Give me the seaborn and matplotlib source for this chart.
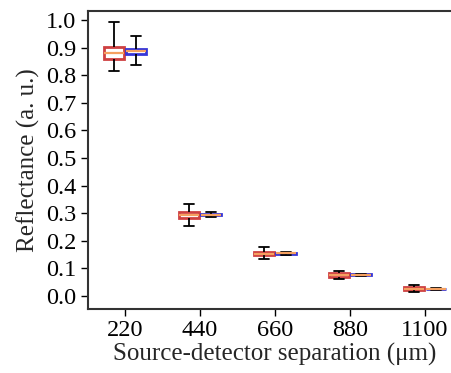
import numpy as np
import pandas as pd
import seaborn as sns
import matplotlib
matplotlib.use("Agg")
import matplotlib.pyplot as plt

separations = ["220", "440", "660", "880", "1100"]
groups = ["Measured", "Simulated"]
# five-number summaries: min, q1, median, q3, max
measured = [
    [0.816, 0.859, 0.880, 0.901, 0.994],
    [0.255, 0.283, 0.294, 0.305, 0.332],
    [0.136, 0.147, 0.154, 0.161, 0.179],
    [0.060, 0.070, 0.077, 0.084, 0.092],
    [0.016, 0.021, 0.027, 0.032, 0.039],
]
simulated = [
    [0.838, 0.877, 0.887, 0.896, 0.942],
    [0.288, 0.292, 0.295, 0.299, 0.305],
    [0.150, 0.153, 0.155, 0.157, 0.160],
    [0.073, 0.075, 0.077, 0.079, 0.081],
    [0.022, 0.024, 0.025, 0.027, 0.028],
]
colors = {"Measured": "#e6282a", "Simulated": "#1a1af2"}

rows = []
for sep, m, s in zip(separations, measured, simulated):
    for v in m:
        rows.append((sep, "Measured", v))
    for v in s:
        rows.append((sep, "Simulated", v))
df = pd.DataFrame(rows, columns=["sep", "group", "val"])

sns.set_theme(style="ticks")
plt.rcParams["font.family"] = ["Liberation Serif", "DejaVu Serif"]
plt.rcParams["mathtext.fontset"] = "stix"

fig = plt.figure(figsize=(4.52, 3.73), dpi=100)
ax = fig.add_axes([0.1936, 0.1716, 0.8296, 0.7989])

sns.boxplot(data=df, x="sep", y="val", hue="group", order=separations,
            hue_order=groups, palette=colors, whis=np.inf, width=0.6, gap=0.1,
            linecolor="black", linewidth=1.3, legend=False, ax=ax,
            medianprops=dict(color="#f5a060", linewidth=1.6))

for patch in ax.patches:
    fc = patch.get_facecolor()
    patch.set_edgecolor(fc)
    patch.set_facecolor("white")
    patch.set_linewidth(2.0)
    patch.set_zorder(2.5)
for line in ax.lines:
    line.set_zorder(3)

ax.set_xlim(-0.5, 4.5)
ax.set_ylim(-0.047, 1.033)
ax.set_yticks(np.arange(0, 1.01, 0.1))
ax.set_yticklabels([f"{t:.1f}" for t in np.arange(0, 1.01, 0.1)])
ax.set_xlabel("Source-detector separation (μm)", fontsize=18, labelpad=1)
ax.set_ylabel("Reflectance (a. u.)", fontsize=18, labelpad=4)
ax.tick_params(axis="both", labelsize=17.5, length=5, width=1, direction="out",
               colors="black", pad=3)
for sp in ax.spines.values():
    sp.set_color("#333333")
    sp.set_linewidth(1.5)

fig.savefig("out.png", dpi=100)
